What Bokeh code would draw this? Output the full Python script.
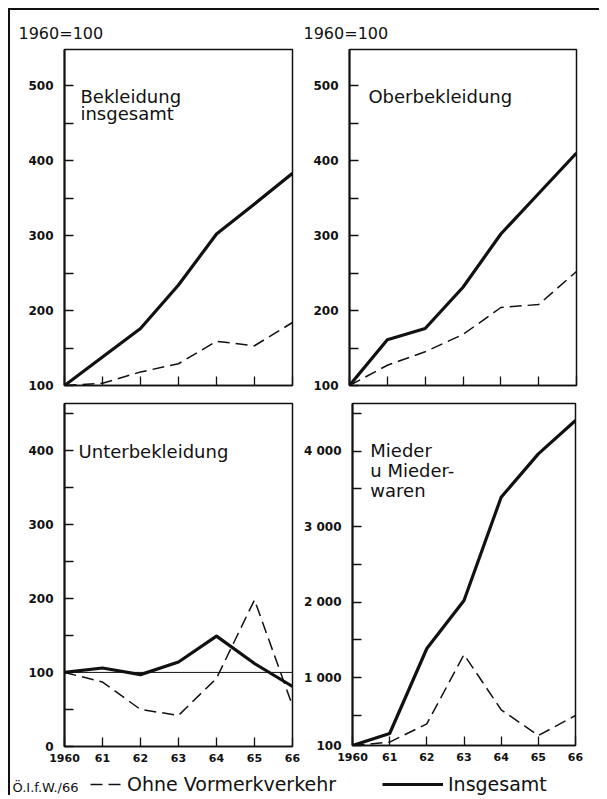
from bokeh.plotting import figure
from bokeh.layouts import column, row
from bokeh.models import (Range1d, FixedTicker, Label, Span, Legend, LegendItem,
                          CustomJSTickFormatter)
from bokeh.embed import file_html
from bokeh.resources import INLINE

# ---------------- data ----------------
years = [1960, 1961, 1962, 1963, 1964, 1965, 1966]
year_labels = ["1960", "61", "62", "63", "64", "65", "66"]

bekleidung_insgesamt = [100, 138, 176, 234, 302, 342, 383]
bekleidung_ohne = [100, 103, 118, 129, 159, 153, 184]

oberbekleidung_insgesamt = [100, 161, 176, 231, 302, 356, 410]
oberbekleidung_ohne = [100, 127, 145, 168, 204, 208, 252]

unterbekleidung_insgesamt = [100, 106, 97, 114, 149, 112, 81]
unterbekleidung_ohne = [100, 87, 50, 42, 92, 198, 55]

mieder_insgesamt = [100, 259, 1385, 2020, 3389, 3963, 4405]
mieder_ohne = [100, 144, 387, 1305, 573, 232, 497]

ticks_top = [100, 200, 300, 400, 500]
minor_top = [150, 250, 350, 450]
ticks_ul = [0, 100, 200, 300, 400]
minor_ul = [50, 150, 250, 350, 450]
ticks_mieder = [100, 1000, 2000, 3000, 4000]
minor_mieder = [500, 1500, 2500, 3500, 4500]
labels_mieder = ["100", "1 000", "2 000", "3 000", "4 000"]

base_label = "1960=100"
legend_labels = ["Ohne Vormerkverkehr", "Insgesamt"]
source_label = "Ö.I.f.W./66"

FONT = "DejaVu Sans"
INK = "#111111"


def panel(fw, fh, bl, br, bt, bb, ymin, ymax, ticks, minor, show_x, tick_labels=None,
          title=None, title_offset=0):
    p = figure(frame_width=fw, frame_height=fh,
               x_range=Range1d(1960, 1966), y_range=Range1d(ymin, ymax),
               output_backend="svg", toolbar_location=None,
               min_border_left=bl, min_border_right=br,
               min_border_top=bt, min_border_bottom=bb)
    p.xgrid.visible = False
    p.ygrid.visible = False
    p.outline_line_color = INK
    p.outline_line_width = 1.5
    p.background_fill_color = None
    p.border_fill_color = None
    if title is not None:
        p.title.text = title
        p.title.align = "left"
        p.title.offset = title_offset
        p.title.standoff = 14
        p.title.text_font = FONT
        p.title.text_font_style = "normal"
        p.title.text_font_size = "16px"
        p.title.text_color = INK

    ya = p.yaxis[0]
    ya.ticker = FixedTicker(ticks=ticks, minor_ticks=minor)
    ya.major_tick_in = 9
    ya.major_tick_out = 0
    ya.minor_tick_in = 9
    ya.minor_tick_out = 0
    ya.axis_line_width = 2
    ya.axis_line_color = INK
    ya.major_tick_line_color = INK
    ya.minor_tick_line_color = INK
    ya.major_tick_line_width = 1.3
    ya.minor_tick_line_width = 1.3
    ya.major_label_standoff = 11
    ya.major_label_text_font = FONT
    ya.major_label_text_font_style = "bold"
    ya.major_label_text_font_size = "12px"
    ya.major_label_text_color = INK
    if tick_labels is not None:
        ya.major_label_overrides = {t: l for t, l in zip(ticks, tick_labels)}

    xa = p.xaxis[0]
    xa.ticker = FixedTicker(ticks=years, minor_ticks=[])
    xa.major_tick_in = 9
    xa.major_tick_out = 0
    xa.axis_line_width = 1.5
    xa.axis_line_color = INK
    xa.major_tick_line_color = INK
    xa.major_tick_line_width = 1.3
    if show_x:
        xa.major_label_overrides = {y: l for y, l in zip(years, year_labels)}
        xa.major_label_standoff = 7
        xa.major_label_text_font = FONT
        xa.major_label_text_font_style = "bold"
        xa.major_label_text_font_size = "11px"
        xa.major_label_text_color = INK
    else:
        xa.formatter = CustomJSTickFormatter(code="return ''")
        xa.major_label_standoff = 0
        xa.major_label_text_font_size = "1px"
    return p


def lines(p, ys_total, ys_ohne):
    p.line(years, ys_ohne, line_color=INK, line_width=1.5, line_dash="12 6")
    p.line(years, ys_total, line_color=INK, line_width=3.2, line_join="round")


def text(p, x, y, s, size="18px", align="left"):
    p.add_layout(Label(x=x, y=y, text=s, text_font=FONT, text_font_size=size,
                       text_color=INK, text_align=align, text_baseline="middle"))


# top-left
p1 = panel(228, 336, 54, 8, 39, 9, 100, 548, ticks_top, minor_top, False,
           title=base_label, title_offset=-46)
lines(p1, bekleidung_insgesamt, bekleidung_ohne)
text(p1, 1960.42, 486, "Bekleidung")
text(p1, 1960.42, 463, "insgesamt")

# top-right
p2 = panel(227, 336, 49, 23, 39, 9, 100, 548, ticks_top, minor_top, False,
           title=base_label, title_offset=-46)
lines(p2, oberbekleidung_insgesamt, oberbekleidung_ohne)
text(p2, 1960.5, 485, "Oberbekleidung")

# bottom-left
p3 = panel(228, 343, 54, 8, 9, 22, 0, 463, ticks_ul, minor_ul, True)
p3.add_layout(Span(location=100, dimension="width", line_color=INK, line_width=1))
lines(p3, unterbekleidung_insgesamt, unterbekleidung_ohne)
text(p3, 1960.37, 398, "Unterbekleidung")

# bottom-right
p4 = panel(223, 342, 52, 24, 9, 23, 100, 4630, ticks_mieder, minor_mieder, True,
           tick_labels=labels_mieder)
lines(p4, mieder_insgesamt, mieder_ohne)
text(p4, 1960.48, 4007, "Mieder")
text(p4, 1960.48, 3742, "u Mieder-")
text(p4, 1960.48, 3477, "waren")

# legend strip (sample lines are the series themselves, out of this strip's view)
p5 = figure(width=589, height=27, x_range=Range1d(0, 589), y_range=Range1d(0, 27),
            x_axis_type=None, y_axis_type=None, output_backend="svg",
            toolbar_location=None, min_border=0)
p5.outline_line_color = None
p5.xgrid.visible = False
p5.ygrid.visible = False
p5.background_fill_color = None
p5.border_fill_color = None
r_ohne = p5.line(years, mieder_ohne, line_color=INK, line_width=1.5, line_dash="12 6")
r_tot = p5.line(years, mieder_insgesamt, line_color=INK, line_width=3)
for item, loc, gw in [(LegendItem(label=legend_labels[0], renderers=[r_ohne]), (80, 0), 32),
                      (LegendItem(label=legend_labels[1], renderers=[r_tot]), (372, 0), 61)]:
    lg = Legend(items=[item], location=loc, glyph_width=gw, glyph_height=20,
                label_height=20, label_standoff=5, padding=0, margin=0, spacing=0,
                border_line_color=None, background_fill_alpha=0,
                label_text_font=FONT, label_text_font_size="19px",
                label_text_color=INK)
    p5.add_layout(lg)
text(p5, 2, 8, source_label, size="13px")

layout = column(row(p1, p2, spacing=0), row(p3, p4, spacing=0), p5, spacing=0,
                margin=(8, 0, 0, 8),
                styles={"border-top": "2px solid #111", "border-left": "2px solid #111"})

open("out.html", "w").write(file_html(layout, INLINE))
